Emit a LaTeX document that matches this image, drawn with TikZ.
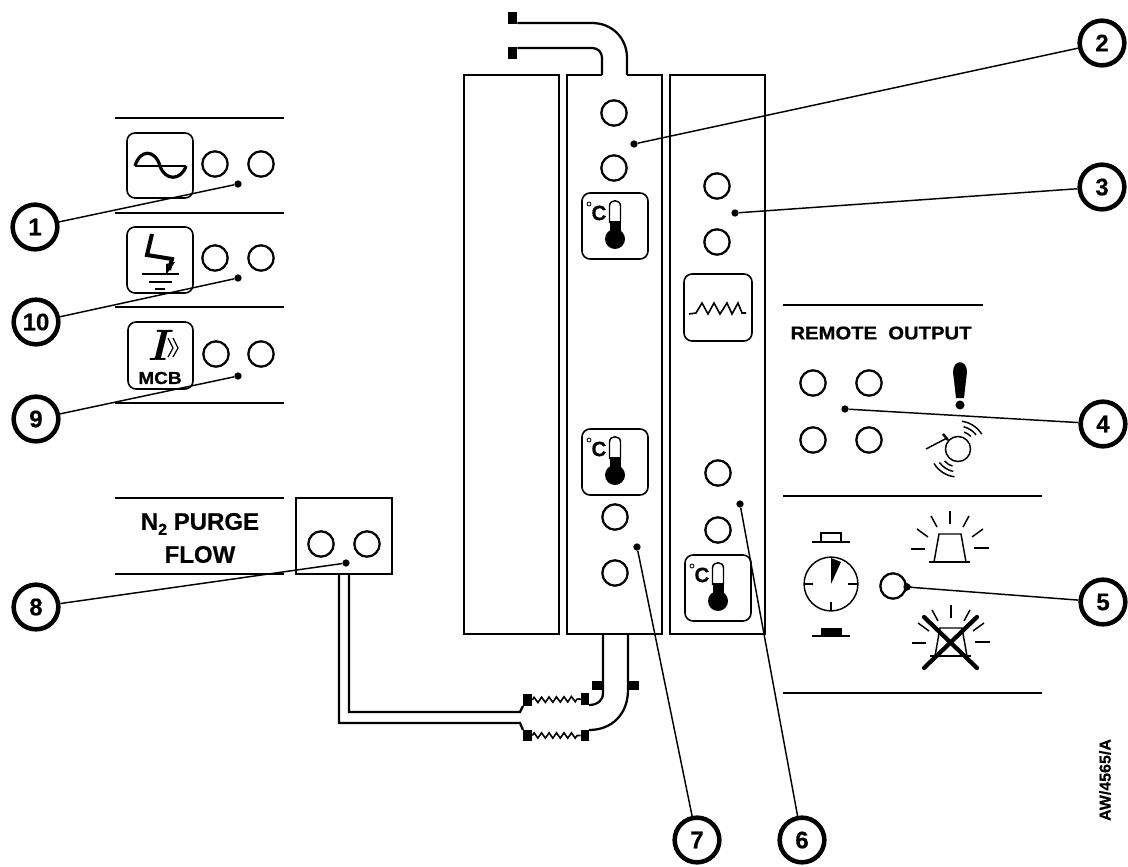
\documentclass[tikz,border=0pt]{standalone}
\usepackage{fontspec}
\usetikzlibrary{positioning,decorations.pathmorphing}
\newfontfamily\panelfont[FakeBold=0.4]{Liberation Sans}
\newfontfamily\widefont[FakeStretch=1.1,FakeBold=0.6]{Liberation Sans}

\tikzset{
lamp/.style={circle, draw=black, line width=1.7pt, fill=white, minimum size=19pt, inner sep=0pt},
badge/.style={circle, draw=black, line width=3.4pt, fill=white, minimum size=33.5pt, inner sep=0pt, font=\panelfont\bfseries\fontsize{18}{18}\selectfont},
dot/.style={circle, fill=black, minimum size=5.5pt, inner sep=0pt},
leader/.style={line width=1.1pt},
rail/.style={line width=1.7pt},
iconbox/.style={draw=black, line width=1.2pt, rounded corners=6pt, fill=white},
pipe/.style={line width=1.7pt},
flange/.style={rectangle, fill=black, inner sep=0pt},
thermo/.pic={
\draw[iconbox] (0,0) rectangle (66,66);
\node[font=\panelfont\bfseries\fontsize{15.5}{15.5}\selectfont] at (17,20) {C};
\draw[line width=0.6pt] (7,11) circle[radius=1.5pt];
\fill (33,46) circle[radius=7.5pt];
\fill (27.5,28) rectangle (38.5,46);
\draw[line width=1.1pt] (27.5,30) -- (27.5,13) .. controls (27.5,6) and (38.5,6) .. (38.5,13) -- (38.5,30);
},
beacon/.pic={
\draw[line width=1.1pt] (-21,0) -- (20,0);
\draw[line width=1.1pt] (-16,0) -- (-11,-28) -- (11,-28) -- (16,0);
\foreach \ax/\ay/\bx/\by in {0/-51/0/-38,-19/-46/-13/-35,19/-46/13/-35,-33/-33/-22/-25,33/-33/22/-25,-39/-13/-25/-13,39/-14/24/-14}
\draw[line width=1.1pt] (\ax,\ay) -- (\bx,\by);
}
}

\begin{document}
\begin{tikzpicture}[x=0.75pt,y=-0.75pt]

\useasboundingbox (0,0) rectangle (1128,867);

\draw[rail] (464,75) rectangle (559,634);

\draw[rail] (602,75) -- (567,75) -- (567,634) -- (662,634) -- (662,75) -- (627,75);

\draw[rail] (670,75) rectangle (765,634);

\foreach \y in {118,213,307,403,498,574}
\draw[rail] (115,\y) -- (284,\y);

\draw[line width=2.2pt] (783,305) -- (983,305);

\draw[rail] (783,496) -- (1042,496);

\draw[rail] (783,693) -- (1042,693);

\node[flange, minimum width=7pt, minimum height=9pt] (topa) at (512.5,18) {};

\node[flange, minimum width=7pt, minimum height=9pt] (topb) at (512.5,53) {};

\draw[pipe] (topa.east |- 0,23) -- (592,23) .. controls (612,23) and (627,38) .. (627,58) -- (627,75);

\draw[pipe] (topb.east |- 0,48) -- (592,48) .. controls (598,48) and (602,52) .. (602,58) -- (602,75);

\draw[iconbox] (127,133) rectangle (193,198);

\draw[iconbox] (127,227) rectangle (193,293);

\draw[iconbox] (128,322) rectangle (193,389);

\draw[iconbox] (684,274) rectangle (752,341);

\draw[line width=1.8pt] (135,166) -- (186,166);

\draw[line width=2.4pt] (135,166) .. controls (140,149) and (155,149) .. (160,166) .. controls (165,181) and (181,181) .. (186,166);

\draw[line width=3pt] (152,234) -- (147,255) -- (172,259) -- (169,270);

\fill (166,264) -- (175,262) -- (166,275) -- cycle;

\draw[line width=1.1pt] (142,274) -- (179,274);

\draw[line width=1.1pt] (149,282) -- (172,282);

\draw[line width=1.1pt] (155,289) -- (165,289);

\node[font=\fontsize{33}{33}\selectfont\bfseries\itshape, inner sep=0pt] (current) at (158,345) {I};

\draw[line width=0.9pt] (168,338) -- (173,348) -- (168,357);

\draw[line width=0.9pt] (173,338) -- (178,348) -- (173,357);

\node[font=\widefont\bfseries\fontsize{13}{13}\selectfont, inner sep=0pt] (mcb) at (160,378) {MCB};

\draw[line width=1.2pt] (689,314) -- (696,313) -- (702,303) -- (708,314) -- (714,303) -- (720,314) -- (727,303) -- (732,314) -- (738,303) -- (742,313) -- (746,313);

\pic at (582,193) {thermo};

\pic at (582,429) {thermo};

\pic at (685,555) {thermo};

\node[font=\widefont\bfseries\fontsize{13.8}{13.8}\selectfont, inner sep=0pt] (remote) at (881,333) {REMOTE\ \ OUTPUT};

\node[font=\panelfont\bfseries\fontsize{18}{24.75}\selectfont, align=center, inner sep=0pt] (purge) at (200,538) {N\raisebox{-0.4ex}{\fontsize{12}{12}\selectfont 2} PURGE\\FLOW};

\fill (956,398) -- (953,372) .. controls (953,359) and (967,359) .. (967,372) -- (964,398) -- cycle;

\fill (960,405) circle[radius=3.4pt];

\draw[line width=1.1pt] (958,449) circle[radius=9.4pt];

\foreach \r/\sa/\ea in {13.5/45/70,17.2/38/76,21/32/82}
\draw[line width=1.1pt] ([shift=(\sa:\r pt)]958,449) arc[start angle=\sa, end angle=\ea, radius=\r pt];

\foreach \r/\sa/\ea in {13.5/222/252,17.2/216/258,21/211/263}
\draw[line width=1.1pt] ([shift=(\sa:\r pt)]958,449) arc[start angle=\sa, end angle=\ea, radius=\r pt];

\draw[line width=1.1pt] (926,449) -- (947,438);

\draw[line width=1.8pt] (943,434) -- (948,440);

\draw[line width=1.1pt] (812,542) -- (850,542);

\draw[line width=1.1pt] (821,542) -- (821,533) -- (841,533) -- (841,542);

\draw[line width=1.1pt] (831,584) circle[radius=20.2pt];

\fill (831,584) -- (831,558) -- (841,562) -- cycle;

\draw[line width=1.1pt] (805,584) -- (813,584);

\draw[line width=1.1pt] (848,584) -- (857,584);

\draw[line width=1.1pt] (831,602) -- (831,611);

\draw[line width=1.1pt] (812,636) -- (850,636);

\fill (821,628) rectangle (842,636);

\pic at (950,562) {beacon};

\pic at (951,656) {beacon};

\draw[line width=3.2pt, line cap=round] (924,617) -- (977,668);

\draw[line width=3.2pt, line cap=round] (977,617) -- (924,668);

\fill (903,580) -- (912,587) -- (903,593) -- cycle;

\foreach \name/\x/\y in {sa/215/164,sb/261/164,ea/215/258,eb/261/258,ma/216/354,mb/261/354,fa/614/113,fb/614/168,fc/615/517,fd/615/573,ra/717/186,rb/717/242,rc/718/473,rd/718/530,ta/813/383,tb/869/383,tc/813/440,td/869/440,rst/893/586,nz/321/544,ny/367/544}
\node[lamp] (\name) at (\x,\y) {};

\draw[pipe] (296,498) rectangle (392,574);

\draw[pipe] (339,574) -- (339,723) -- (520,723) -- (523,730);

\draw[pipe] (349,574) -- (349,712) -- (520,712) -- (523,706);

\draw[pipe] (603,634) -- (603,693) .. controls (603,701) and (597,705) .. (589,705);

\draw[pipe] (628,634) -- (628,690) .. controls (628,714) and (612,730) .. (589,730);

\node[flange, minimum width=6.75pt, minimum height=9pt] (bua) at (527.5,700) {};

\node[flange, minimum width=6.75pt, minimum height=8pt] (bub) at (527.5,735.5) {};

\node[flange, minimum width=6pt, minimum height=9pt] (bra) at (585,699) {};

\node[flange, minimum width=6pt, minimum height=8pt] (brb) at (585,735.5) {};

\node[flange, minimum width=8pt, minimum height=6.75pt] (pla) at (597.5,685.5) {};

\node[flange, minimum width=8pt, minimum height=6.75pt] (plb) at (633.5,685.5) {};

\draw[line width=1.2pt, decorate, decoration={zigzag, segment length=5.6pt, amplitude=2pt}] (bua.east) -- (bra.west);

\draw[line width=1.2pt, decorate, decoration={zigzag, segment length=5.6pt, amplitude=2pt}] (bub.east) -- (brb.west);

\foreach \num/\x/\y in {1/35/227,10/36/322,9/36/419,8/36/607,2/1102/43,3/1102/187,4/1103/424,5/1103/602,7/697/840,6/802/840}
\node[badge] (b\num) at (\x,\y) {\num};

\foreach \num/\x/\y in {1/238/184,10/238/278,9/238/376,8/346/563,2/634/144,3/735/213,4/845/409,5/907/587,7/637/547,6/740/504}
{
\node[dot] (d\num) at (\x,\y) {};
\draw[leader] (d\num) -- (b\num);
}

\node[rotate=90, font=\panelfont\bfseries\fontsize{12}{12}\selectfont, inner sep=0pt] (ref) at (1105,780) {AW/4565/A};

\end{tikzpicture}
\end{document}
